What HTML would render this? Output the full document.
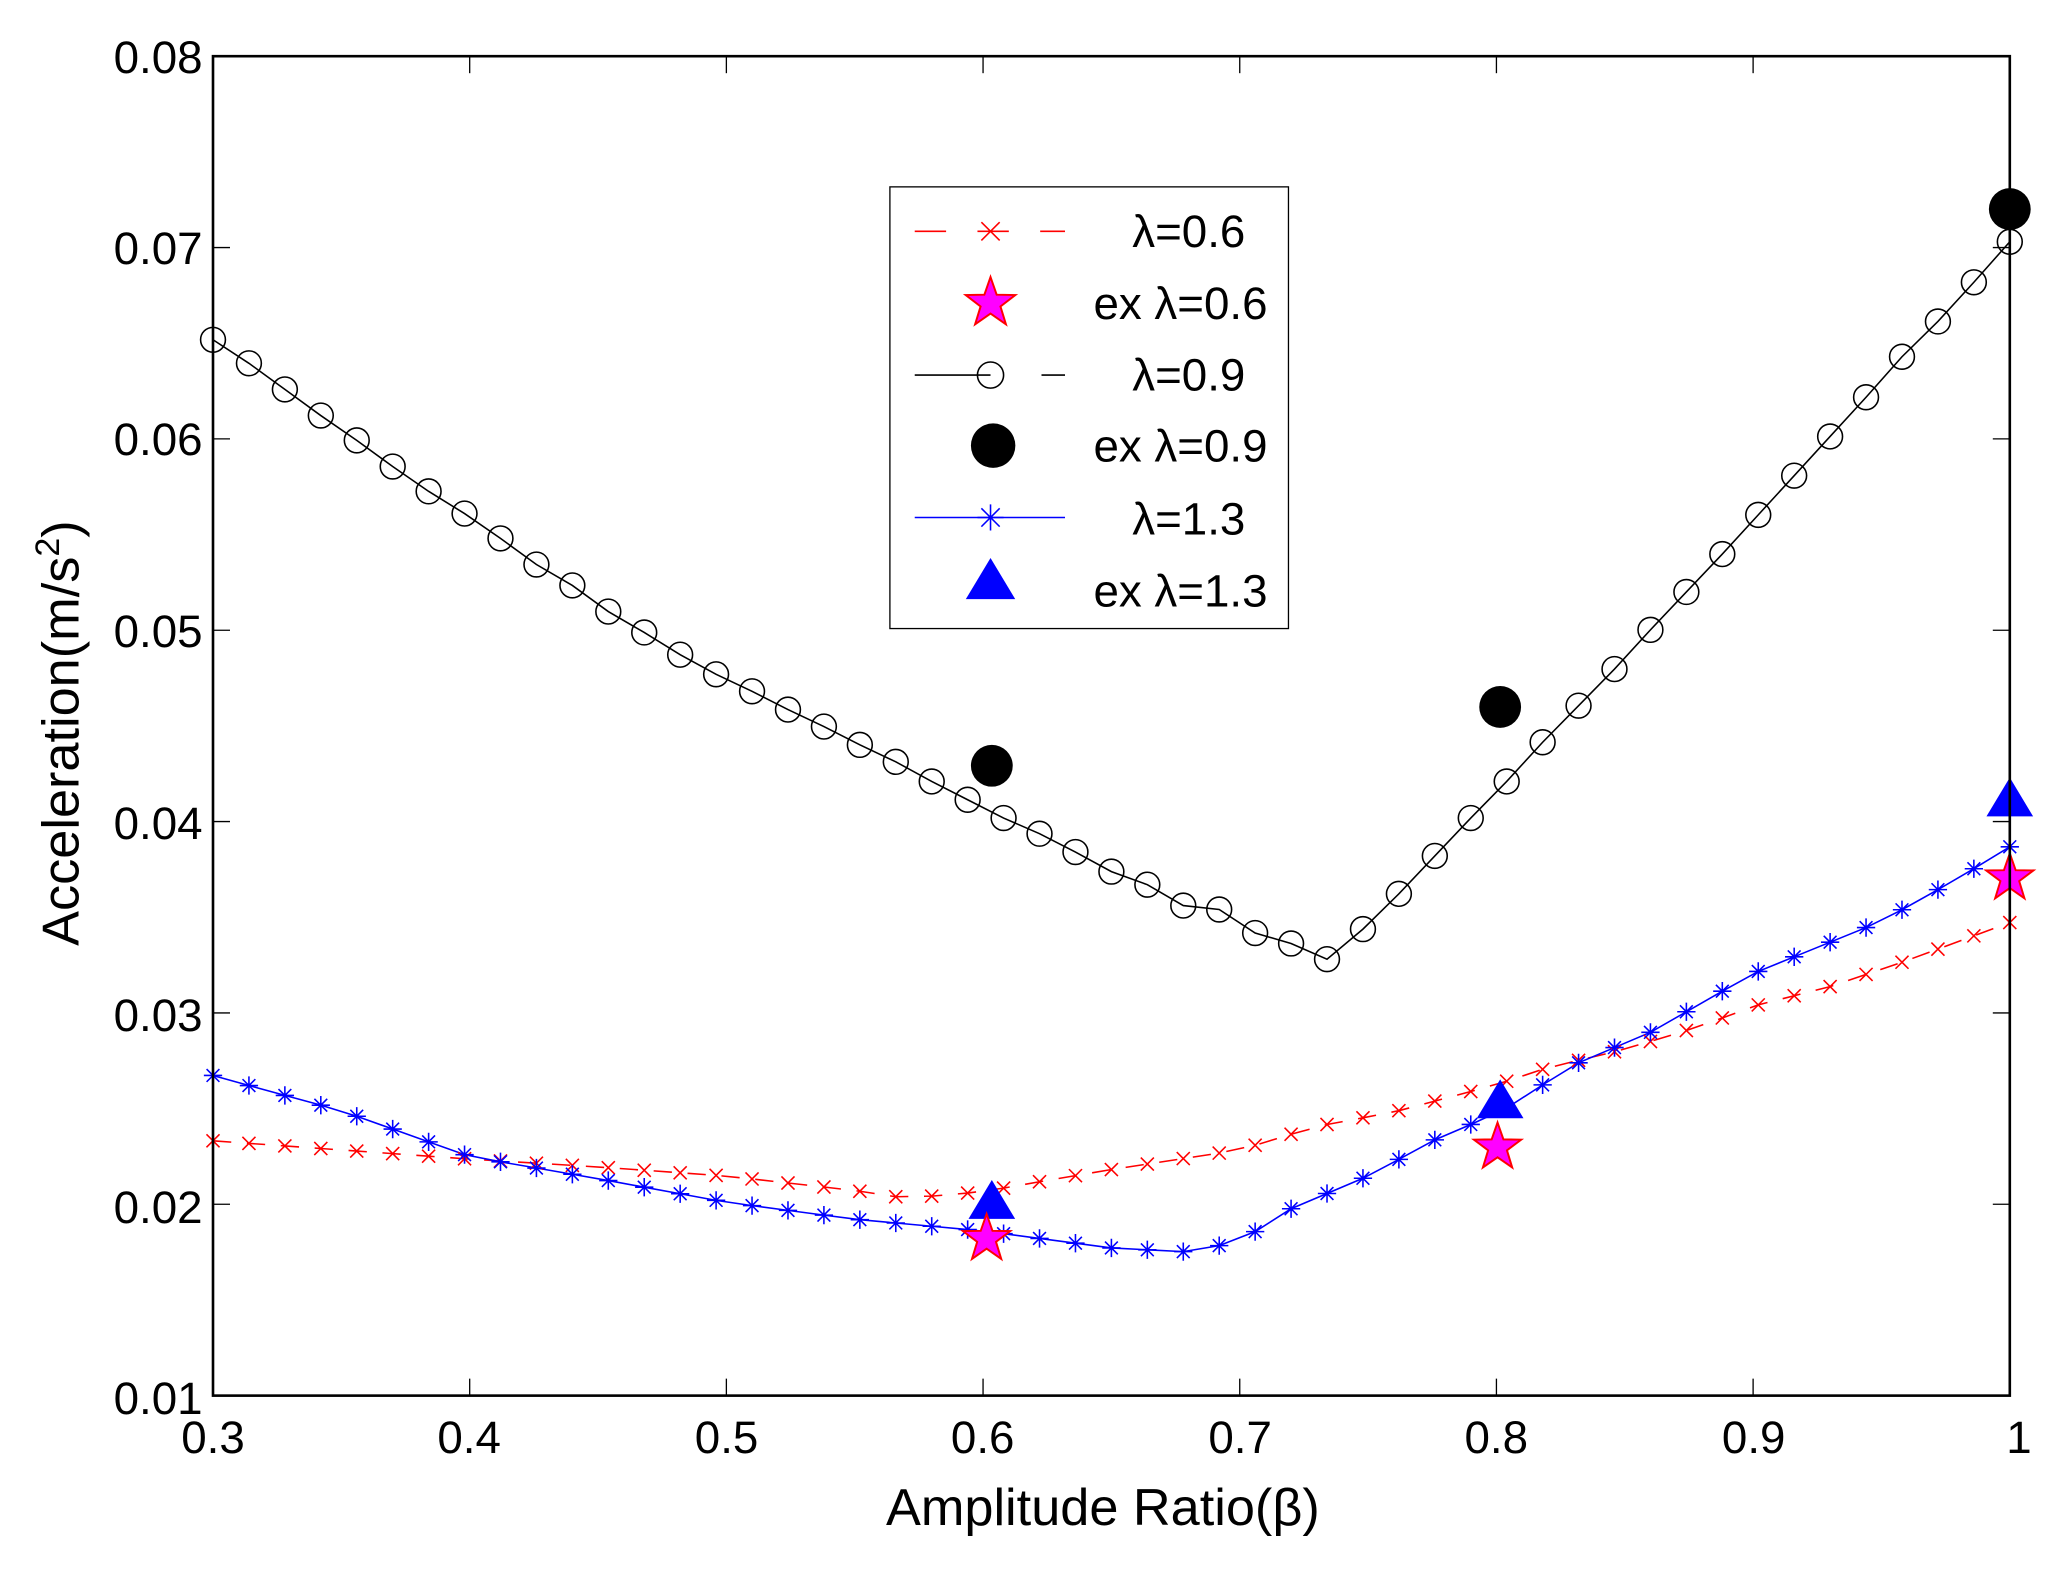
<!DOCTYPE html>
<html><head><meta charset="utf-8"><style>
html,body{margin:0;padding:0;background:#fff;}
svg{display:block;}
text{font-family:"Liberation Sans",Arial,sans-serif;fill:#000;}
</style></head><body>
<svg id="s" width="2049" height="1574" viewBox="0 0 1568 1204.5" xmlns="http://www.w3.org/2000/svg">
<rect x="0" y="0" width="1568" height="1204.5" fill="#fff"/>
<g id="plot"></g>
<rect x="163" y="43" width="1375" height="1025" fill="none" stroke="#000" stroke-width="2"/>
<g id="ticks" stroke="#000" stroke-width="1"></g>
<g font-size="35">
<text x="155" y="56" text-anchor="end">0.08</text>
<text x="155" y="202" text-anchor="end">0.07</text>
<text x="155" y="348" text-anchor="end">0.06</text>
<text x="155" y="495" text-anchor="end">0.05</text>
<text x="155" y="642" text-anchor="end">0.04</text>
<text x="155" y="789" text-anchor="end">0.03</text>
<text x="155" y="936" text-anchor="end">0.02</text>
<text x="155" y="1082" text-anchor="end">0.01</text>
<text x="163" y="1112" text-anchor="middle">0.3</text>
<text x="359" y="1112" text-anchor="middle">0.4</text>
<text x="556" y="1112" text-anchor="middle">0.5</text>
<text x="752" y="1112" text-anchor="middle">0.6</text>
<text x="949" y="1112" text-anchor="middle">0.7</text>
<text x="1145" y="1112" text-anchor="middle">0.8</text>
<text x="1342" y="1112" text-anchor="middle">0.9</text>
<text x="1545" y="1112" text-anchor="middle">1</text>
</g>
<text x="844" y="1167" font-size="40" text-anchor="middle">Amplitude Ratio(β)</text>
<text transform="translate(60,561) rotate(-90)" font-size="40" text-anchor="middle">Acceleration(m/s<tspan font-size="26" dy="-15">2</tspan><tspan dy="15">)</tspan></text>
<rect x="681" y="143" width="305" height="338" fill="#fff" stroke="#000" stroke-width="1"/>
<g id="leg"></g>
<g font-size="35" text-anchor="end">
<text x="953" y="189">λ=0.6</text>
<text x="970" y="244">ex λ=0.6</text>
<text x="953" y="299">λ=0.9</text>
<text x="970" y="353">ex λ=0.9</text>
<text x="953" y="409">λ=1.3</text>
<text x="970" y="464">ex λ=1.3</text>
</g>
</svg>
<script>
var NS="http://www.w3.org/2000/svg";
function el(p,t,a){var e=document.createElementNS(NS,t);for(var k in a)e.setAttribute(k,a[k]);p.appendChild(e);return e;}
var plot=document.getElementById('plot'),ticks=document.getElementById('ticks'),leg=document.getElementById('leg');
for(var i=0;i<8;i++){var y=43+i*1025/7;el(ticks,'line',{x1:163,y1:y,x2:176,y2:y});el(ticks,'line',{x1:1538,y1:y,x2:1525,y2:y});}
for(var i=0;i<8;i++){var x=163+i*1375/7;el(ticks,'line',{x1:x,y1:1068,x2:x,y2:1055});el(ticks,'line',{x1:x,y1:43,x2:x,y2:56});}
function X(b){return 163+(b-0.3)*1375/0.7;}
function interp(k,b){for(var i=0;i<k.length-1;i++){if(b<=k[i+1][0]+1e-9){var t=(b-k[i][0])/(k[i+1][0]-k[i][0]);return k[i][1]+t*(k[i+1][1]-k[i][1]);}}return k[k.length-1][1];}
var black=[260,278,298,318,337,357,376,393,412,432,448,468,484,501,516,529,543,556,570,583,598,612,626,638,652,667,677,693,696,714,722,734,711,684,655,626,598,568,540,512,482,453,424,394,364,334,304,273,246,216,185];
var redK=[[0.3,873],[0.35,880],[0.4,887],[0.45,893],[0.5,900],[0.55,911],[0.57,917],[0.6,912],[0.62,905],[0.65,895],[0.68,886],[0.7,880],[0.73,862],[0.76,851],[0.8,830],[0.82,817],[0.85,803],[0.88,785],[0.9,770],[0.93,755],[0.96,735],[1,706]];
var bluK=[[0.3,823],[0.32,834],[0.35,850],[0.4,885],[0.45,902],[0.5,920],[0.55,933],[0.6,942],[0.65,955],[0.68,958],[0.7,950],[0.72,925],[0.75,900],[0.78,868],[0.8,853],[0.83,815],[0.86,790],[0.9,745],[0.95,705],[0.98,672],[1,648]];
function pts(f){var a=[];for(var i=0;i<=50;i++){var b=0.3+i*0.014;a.push([X(b),f(b,i)]);}return a;}
var pr=pts(function(b){return interp(redK,b);}),pb=pts(function(b){return interp(bluK,b);}),pk=pts(function(b,i){return black[i];});
function poly(p,col,dash){el(plot,'polyline',{points:p.map(function(q){return q.join(',')}).join(' '),fill:'none',stroke:col,'stroke-width':1.2,'stroke-dasharray':dash||'none'});}
function xm(g,x,y,c,r){el(g,'path',{d:'M'+(x-r)+' '+(y-r)+'L'+(x+r)+' '+(y+r)+'M'+(x-r)+' '+(y+r)+'L'+(x+r)+' '+(y-r),stroke:c,'stroke-width':1.2,fill:'none'});}
function ast(g,x,y,r,c){el(g,'path',{d:'M'+(x-r)+' '+y+'L'+(x+r)+' '+y+'M'+x+' '+(y-r)+'L'+x+' '+(y+r)+'M'+(x-r*0.7)+' '+(y-r*0.7)+'L'+(x+r*0.7)+' '+(y+r*0.7)+'M'+(x-r*0.7)+' '+(y+r*0.7)+'L'+(x+r*0.7)+' '+(y-r*0.7),stroke:c,'stroke-width':1.2,fill:'none'});}
function pent(g,x,y,R,fill,st){var a=[];for(var i=0;i<10;i++){var r=i%2?R*0.4:R;var t=-Math.PI/2+i*Math.PI/5;a.push((x+r*Math.cos(t)).toFixed(1)+','+(y+r*Math.sin(t)).toFixed(1));}el(g,'polygon',{points:a.join(' '),fill:fill,stroke:st,'stroke-width':1.5});}
function tri(g,x,y,s,c){el(g,'polygon',{points:x+','+(y-s)+' '+(x-s*1.05)+','+(y+s*0.75)+' '+(x+s*1.05)+','+(y+s*0.75),fill:c});}
poly(pr,'#f00','14 12');poly(pk,'#000');poly(pb,'#00f');
pr.forEach(function(q){xm(plot,q[0],q[1],'#f00',5);});
pb.forEach(function(q){ast(plot,q[0],q[1],7,'#00f');});
pk.forEach(function(q){el(plot,'circle',{cx:q[0],cy:q[1],r:9.5,fill:'none',stroke:'#000','stroke-width':1.2});});
[[759,586],[1148,541],[1538,160]].forEach(function(q){el(plot,'circle',{cx:q[0],cy:q[1],r:16,fill:'#000'});});
[[759,920],[1148,843],[1538,612]].forEach(function(q){tri(plot,q[0],q[1],17,'#00f');});
[[755,948],[1146,878],[1538,672]].forEach(function(q){pent(plot,q[0],q[1],19,'#f0f','#f00');});
el(leg,'line',{x1:700,y1:177,x2:815,y2:177,stroke:'#f00','stroke-width':1.2,'stroke-dasharray':'24 24'});xm(leg,758,177,'#f00',7);
pent(leg,758,232,20,'#f0f','#f00');
el(leg,'line',{x1:700,y1:287,x2:758,y2:287,stroke:'#000','stroke-width':1.2});el(leg,'line',{x1:797,y1:287,x2:815,y2:287,stroke:'#000','stroke-width':1.2});
el(leg,'circle',{cx:758,cy:287,r:10,fill:'none',stroke:'#000','stroke-width':1.2});
el(leg,'circle',{cx:760,cy:341,r:17,fill:'#000'});
el(leg,'line',{x1:700,y1:396,x2:815,y2:396,stroke:'#00f','stroke-width':1.2});ast(leg,758,396,10,'#00f');
tri(leg,758,445,18,'#00f');
</script>
</body></html>
